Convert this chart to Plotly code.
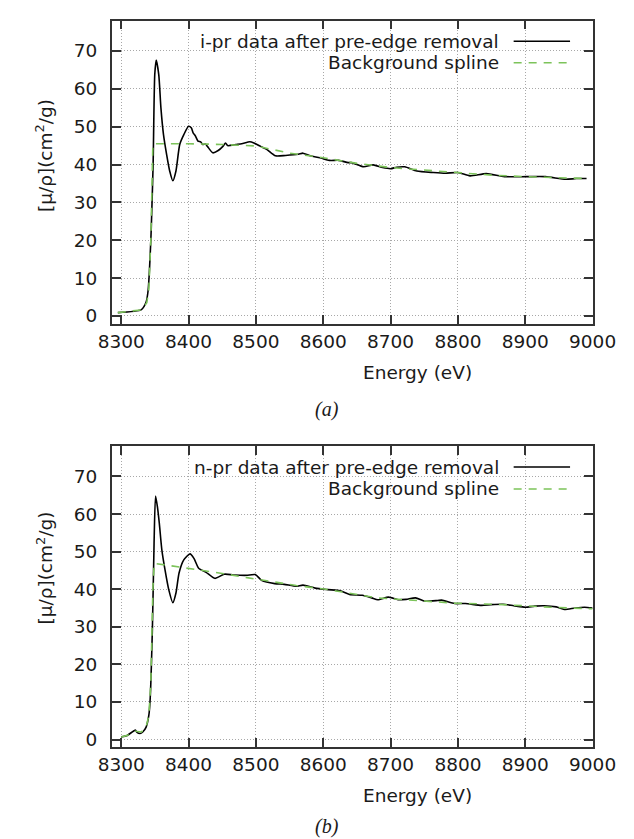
import plotly.graph_objects as go

# ---------------- data ----------------
# (a) i-pr data after pre-edge removal
energy_ipr = [8295, 8330, 8337, 8340, 8344, 8345.6, 8347.4, 8349.8, 8352, 8355.8, 8359, 8362.8,
              8367.4, 8372, 8376.7, 8381.3, 8386.9, 8393, 8400, 8404,
              8407, 8410, 8414, 8418, 8421, 8425, 8428, 8436, 8444, 8451, 8455, 8458, 8470, 8479,
              8491, 8497, 8507, 8516, 8529, 8544, 8563, 8570, 8581, 8595, 8609, 8623, 8637, 8642,
              8660, 8674, 8688, 8700, 8709, 8721, 8739, 8763, 8781, 8800, 8818, 8842, 8869, 8902,
              8930, 8960, 8976, 8991]
mu_ipr = [0.9, 1.7, 3.7, 6.8, 20.0, 28.8, 40.1, 63.7, 67.6, 63.7, 54.9, 47.9,
          42.7, 38.3, 35.7, 38.3, 45.3, 47.9, 50.1, 49.7,
          48.3, 47.6, 46.2, 46.0, 45.3, 45.4, 44.8, 43.1, 43.7, 44.8, 45.7, 45.0, 45.3, 45.5,
          46.0, 45.7, 44.8, 44.0, 42.3, 42.4, 42.7, 43.0, 42.3, 41.8, 41.1, 41.1, 40.5, 40.5,
          39.4, 39.9, 39.2, 38.9, 39.3, 39.4, 38.3, 37.9, 37.7, 37.9, 37.0, 37.6, 36.8, 36.8,
          36.8, 36.1, 36.3, 36.3]

energy_ipr_bg = [8295, 8330, 8338, 8341, 8344, 8347, 8400, 8450, 8500, 8550, 8600, 8650, 8700,
                 8750, 8800, 8850, 8900, 8950, 8991]
mu_ipr_bg = [0.9, 1.6, 3.5, 7.0, 20.0, 45.5, 45.5, 45.3, 44.9, 43.0, 41.8, 40.3, 39.2,
             38.5, 37.7, 37.2, 36.8, 36.5, 36.3]

# (b) n-pr data after pre-edge removal
energy_npr = [8300, 8309, 8321, 8323, 8328, 8332, 8337, 8341, 8343, 8346.4, 8348.8, 8351,
              8353.8, 8356.6, 8360.4, 8365, 8370.6, 8376.7, 8381.3, 8385.9, 8392.9, 8402.2,
              8408, 8415, 8426, 8439, 8453, 8467, 8486, 8499,
              8509, 8528, 8542, 8560, 8570, 8588, 8607, 8625, 8639, 8658, 8672, 8681, 8697,
              8711, 8723, 8737, 8751, 8770, 8776, 8795, 8811, 8835, 8849, 8867, 8883, 8900,
              8914, 8928, 8946, 8958, 8974, 8988, 9000]
mu_npr = [0.7, 1.1, 2.5, 2.0, 1.6, 2.0, 3.3, 6.4, 10.8, 30.2, 52.2, 64.8,
          61.9, 57.5, 50.4, 45.2, 39.9, 36.4, 39.0, 44.3, 47.8, 49.4,
          48.2, 45.6, 44.5, 42.9, 44.0, 43.8, 43.7, 43.9,
          42.3, 41.5, 41.3, 40.8, 41.1, 40.3, 39.9, 39.6, 38.6, 38.4, 37.7, 37.2, 37.9,
          37.2, 37.3, 37.7, 36.8, 37.0, 37.1, 36.2, 36.2, 35.7, 35.9, 36.0, 35.6, 35.2,
          35.5, 35.6, 35.3, 34.6, 35.0, 35.2, 35.0]

energy_npr_bg = [8300, 8309, 8321, 8330, 8337, 8341, 8344, 8347, 8349, 8401, 8450, 8500, 8560,
                 8607, 8653, 8680, 8795, 8867, 8937, 9000]
mu_npr_bg = [0.7, 1.1, 2.2, 2.0, 3.3, 6.4, 15.0, 40.0, 46.9, 45.6, 44.2, 42.7, 41.0,
             39.9, 38.6, 37.7, 36.3, 35.9, 35.2, 34.8]

x_ticks = [8300, 8400, 8500, 8600, 8700, 8800, 8900, 9000]
y_ticks = [0, 10, 20, 30, 40, 50, 60, 70]
legend_data = ["i-pr data after pre-edge removal", "n-pr data after pre-edge removal"]
legend_bg = "Background spline"
captions = ["(a)", "(b)"]
x_title = "Energy (eV)"
y_title = "[μ/ρ](cm<sup>2</sup>/g)"

# ---------------- styling ----------------
W, H = 634, 839
FONT = "DejaVu Sans"
FS = 18.5
GREEN = "#7cc35a"
DASH = "8px,7px"
AXC = "#333333"
TXT = "#1a1a1a"
GRID = "#a8a8a8"

def px(x):
    return x / W

def py(y):
    return 1 - y / H

fig = go.Figure()

fig.add_trace(go.Scatter(x=energy_ipr, y=mu_ipr, mode="lines", xaxis="x", yaxis="y",
                         line=dict(color="black", width=1.6, shape="spline", smoothing=0.6),
                         showlegend=False))
fig.add_trace(go.Scatter(x=energy_ipr_bg, y=mu_ipr_bg, mode="lines", xaxis="x", yaxis="y",
                         line=dict(color=GREEN, width=1.6, dash=DASH), showlegend=False))
fig.add_trace(go.Scatter(x=energy_npr, y=mu_npr, mode="lines", xaxis="x2", yaxis="y2",
                         line=dict(color="black", width=1.6, shape="spline", smoothing=0.6),
                         showlegend=False))
fig.add_trace(go.Scatter(x=energy_npr_bg, y=mu_npr_bg, mode="lines", xaxis="x2", yaxis="y2",
                         line=dict(color=GREEN, width=1.6, dash=DASH), showlegend=False))

xdom = [px(95.5), px(607)]
common_x = dict(range=[8286, 9000], tickvals=x_ticks, ticks="inside", ticklen=9, tickwidth=1.5,
                tickcolor=AXC, showline=True, linecolor=AXC, linewidth=1.5, mirror="ticks",
                showgrid=True, gridcolor=GRID, griddash="1px,2px", gridwidth=1,
                zeroline=False, tickfont=dict(family=FONT, size=FS, color=TXT),
                ticklabelstandoff=0, domain=xdom)
common_y = dict(range=[-2, 78], tickvals=y_ticks, ticks="inside", ticklen=9, tickwidth=1.5,
                tickcolor=AXC, showline=True, linecolor=AXC, linewidth=1.5, mirror="ticks",
                showgrid=True, gridcolor=GRID, griddash="1px,2px", gridwidth=1,
                zeroline=False, tickfont=dict(family=FONT, size=FS, color=TXT),
                ticklabelstandoff=9)

fig.update_layout(
    width=W, height=H, margin=dict(l=0, r=0, t=0, b=0),
    paper_bgcolor="white", plot_bgcolor="white",
    xaxis=dict(common_x, anchor="y"),
    yaxis=dict(common_y, anchor="x", domain=[py(316.7), py(12.7)]),
    xaxis2=dict(common_x, anchor="y2"),
    yaxis2=dict(common_y, anchor="x2", domain=[py(741.7), py(440)]),
    showlegend=False,
)

annotations = []
shapes = []
panels = [
    dict(leg=legend_data[0], l1=33.3, l2=55, xt=366, cap=403, yl=148, capt=captions[0]),
    dict(leg=legend_data[1], l1=460.7, l2=482.7, xt=790, cap=821, yl=562, capt=captions[1]),
]
for p in panels:
    annotations.append(dict(x=px(510), y=py(p["l1"]), xref="paper", yref="paper", text=p["leg"],
                            showarrow=False, xanchor="right", yanchor="middle",
                            font=dict(family=FONT, size=FS, color=TXT)))
    annotations.append(dict(x=px(510), y=py(p["l2"]), xref="paper", yref="paper", text=legend_bg,
                            showarrow=False, xanchor="right", yanchor="middle",
                            font=dict(family=FONT, size=FS, color=TXT)))
    shapes.append(dict(type="line", xref="paper", yref="paper", x0=px(523), x1=px(583),
                       y0=py(p["l1"]), y1=py(p["l1"]), line=dict(color="black", width=1.6)))
    shapes.append(dict(type="line", xref="paper", yref="paper", x0=px(523), x1=px(583),
                       y0=py(p["l2"]), y1=py(p["l2"]), line=dict(color=GREEN, width=1.6, dash=DASH)))
    annotations.append(dict(x=px(421), y=py(p["xt"]), xref="paper", yref="paper", text=x_title,
                            showarrow=False, xanchor="center", yanchor="middle",
                            font=dict(family=FONT, size=FS, color=TXT)))
    annotations.append(dict(x=px(324), y=py(p["cap"]), xref="paper", yref="paper",
                            text="<i>" + p["capt"] + "</i>",
                            showarrow=False, xanchor="center", yanchor="middle",
                            font=dict(family="Liberation Serif", size=20, color=TXT)))
    annotations.append(dict(x=px(24), y=py(p["yl"]), xref="paper", yref="paper", text=y_title,
                            showarrow=False, xanchor="center", yanchor="middle", textangle=-90,
                            font=dict(family=FONT, size=FS, color=TXT)))

fig.update_layout(annotations=annotations, shapes=shapes)
fig.write_html("out.html")
